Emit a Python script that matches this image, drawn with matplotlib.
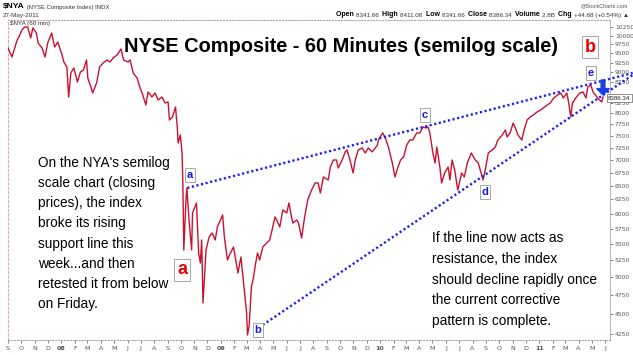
import matplotlib.pyplot as plt
import matplotlib.patches as mpatches
import pandas as pd

# hourly closes of $NYA (thinned)
dates = ['2007-09-01', '2007-09-06', '2007-09-10', '2007-09-15', '2007-09-22', '2007-09-26',
         '2007-10-03', '2007-10-09', '2007-10-16', '2007-10-23', '2007-10-28', '2007-11-05',
         '2007-11-09', '2007-11-18', '2007-11-25', '2007-12-01', '2007-12-10', '2007-12-17',
         '2007-12-24', '2008-01-03', '2008-01-07', '2008-01-14', '2008-01-18', '2008-01-23',
         '2008-01-30', '2008-02-07', '2008-02-14', '2008-02-21', '2008-02-28', '2008-03-02',
         '2008-03-09', '2008-03-13', '2008-03-22', '2008-03-29', '2008-04-06', '2008-04-15',
         '2008-04-22', '2008-04-29', '2008-05-08', '2008-05-17', '2008-05-23', '2008-06-02',
         '2008-06-07', '2008-06-14', '2008-06-23', '2008-06-29', '2008-07-06', '2008-07-13',
         '2008-07-18', '2008-07-27', '2008-08-03', '2008-08-10', '2008-08-19', '2008-08-26',
         '2008-09-02', '2008-09-05', '2008-09-12', '2008-09-19', '2008-09-23', '2008-09-25',
         '2008-09-30', '2008-10-04', '2008-10-06', '2008-10-08', '2008-10-13', '2008-10-15',
         '2008-10-20', '2008-10-26', '2008-10-28', '2008-11-06', '2008-11-11', '2008-11-15',
         '2008-11-18', '2008-11-21', '2008-11-28', '2008-12-05', '2008-12-12', '2008-12-19',
         '2008-12-24', '2009-01-05', '2009-01-09', '2009-01-16', '2009-01-23', '2009-01-30',
         '2009-02-09', '2009-02-16', '2009-02-23', '2009-03-01', '2009-03-03', '2009-03-07',
         '2009-03-12', '2009-03-17', '2009-03-21', '2009-03-26', '2009-03-31', '2009-04-07',
         '2009-04-16', '2009-04-23', '2009-04-30', '2009-05-05', '2009-05-09', '2009-05-16',
         '2009-05-23', '2009-06-01', '2009-06-06', '2009-06-12', '2009-06-15', '2009-06-24',
         '2009-06-28', '2009-07-05', '2009-07-12', '2009-07-19', '2009-07-28', '2009-08-05',
         '2009-08-12', '2009-08-17', '2009-08-24', '2009-09-04', '2009-09-09', '2009-09-16',
         '2009-09-23', '2009-09-27', '2009-10-06', '2009-10-13', '2009-10-17', '2009-10-24',
         '2009-10-31', '2009-11-05', '2009-11-12', '2009-11-21', '2009-11-28', '2009-12-05',
         '2009-12-14', '2009-12-26', '2009-12-28', '2010-01-07', '2010-01-13', '2010-01-20',
         '2010-01-29', '2010-02-04', '2010-02-11', '2010-02-17', '2010-02-24', '2010-03-03',
         '2010-03-10', '2010-03-17', '2010-03-26', '2010-04-02', '2010-04-09', '2010-04-16',
         '2010-04-21', '2010-04-25', '2010-05-02', '2010-05-07', '2010-05-11', '2010-05-18',
         '2010-05-22', '2010-05-29', '2010-06-06', '2010-06-10', '2010-06-15', '2010-06-21',
         '2010-06-28', '2010-07-07', '2010-07-13', '2010-07-20', '2010-07-29', '2010-08-07',
         '2010-08-14', '2010-08-23', '2010-08-25', '2010-08-30', '2010-09-06', '2010-09-15',
         '2010-09-22', '2010-09-28', '2010-10-08', '2010-10-15', '2010-10-19', '2010-10-26',
         '2010-11-02', '2010-11-09', '2010-11-13', '2010-11-22', '2010-11-27', '2010-12-04',
         '2010-12-11', '2010-12-18', '2010-12-27', '2011-01-04', '2011-01-10', '2011-01-19',
         '2011-01-26', '2011-02-03', '2011-02-12', '2011-02-19', '2011-02-25', '2011-03-05',
         '2011-03-09', '2011-03-14', '2011-03-18', '2011-03-27', '2011-04-04', '2011-04-11',
         '2011-04-18', '2011-04-22', '2011-04-29', '2011-05-04', '2011-05-13', '2011-05-19',
         '2011-05-24', '2011-05-27']
close = [9651, 9513, 9405, 9595, 9875, 9960,
         10162, 10250, 10250, 9931, 10221, 10075,
         9790, 9651, 9405, 9790, 10075, 9678,
         9818, 9459, 9271, 9139, 8386, 8984,
         9113, 8754, 9010, 9061, 9325, 8855,
         8629, 8483, 8729, 9139, 9245, 9325,
         9271, 9379, 9459, 9624, 9325, 9271,
         9325, 8984, 8855, 8629, 8434, 8195,
         8508, 8386, 8483, 8314, 8386, 8243,
         8266, 7851, 7918, 8149, 7695, 7349,
         7520, 7142, 6478, 5408, 6241, 6460,
         5893, 5408, 6013, 6187, 5361, 5209,
         5565, 4645, 5408, 5613, 5678, 5565,
         5776, 5979, 5613, 5254, 5361, 5454,
         5062, 5300, 4864, 4513, 4237, 4361,
         4864, 5004, 5180, 5361, 5254, 5454,
         5517, 5565, 5776, 5945, 5893, 5776,
         6065, 6013, 6187, 5945, 5842, 5893,
         5842, 5597, 5945, 6241, 6423, 6553,
         6553, 6368, 6667, 6610, 6861, 7000,
         7000, 6841, 7000, 7163, 7204, 7000,
         6744, 7000, 7204, 7245, 7142, 7245,
         7163, 7307, 7413, 7564, 7456, 7265,
         6940, 6667, 6861, 7000, 7061, 7307,
         7413, 7413, 7564, 7564, 7695, 7672,
         7695, 7564, 7142, 6940, 7265, 6861,
         6553, 6744, 6861, 6610, 7000, 6802,
         6423, 6744, 6667, 6940, 7142, 7000,
         6940, 6667, 6610, 6802, 7142, 7204,
         7265, 7413, 7520, 7629, 7477, 7564,
         7783, 7629, 7520, 7413, 7629, 7851,
         7918, 7963, 8033, 8079, 8125, 8195,
         8243, 8362, 8434, 8483, 8362, 8483,
         8266, 7918, 8243, 8386, 8483, 8508,
         8362, 8629, 8680, 8508, 8386, 8314,
         8266, 8386]

price_ticks = [4250, 4500, 4750, 5000, 5250, 5500, 5750, 6000, 6250, 6500, 6750,
               7000, 7250, 7500, 7750, 8000, 8250, 8750, 9000, 9250, 9500, 9750,
               10000, 10250]
month_labels = ['S', 'O', 'N', 'D', '08', 'F', 'M', 'A', 'M', 'J', 'J', 'A',
                'S', 'O', 'N', 'D', '09', 'F', 'M', 'A', 'M', 'J', 'J', 'A',
                'S', 'O', 'N', 'D', '10', 'F', 'M', 'A', 'M', 'J', 'J', 'A',
                'S', 'O', 'N', 'D', '11', 'F', 'M', 'A', 'M', 'J']

# trendlines (start / end)
upper_dates = ['2008-10-16', '2011-08-03']
upper_prices = [6460, 8984]
lower_dates = ['2009-04-07', '2011-08-03']
lower_prices = [4361, 8932]

last_close = 8386.34

FONT = ['Liberation Sans', 'DejaVu Sans']
W, H = 633, 355


def fx(x):
    return x / W


def fy(y):
    return 1 - y / H


fig = plt.figure(figsize=(6.33, 3.55), dpi=100)
ax = fig.add_axes([fx(8), fy(340), fx(610) - fx(8), fy(20) - fy(340)])

d = pd.to_datetime(dates)
ax.plot(d, close, color='#cc1030', lw=1.0, zorder=3)

ax.set_yscale('log')
ax.set_ylim(4177, 10458)
ax.set_xlim(pd.Timestamp('2007-09-01'), pd.Timestamp('2011-06-12'))

# trendlines
for td, tp in [(upper_dates, upper_prices), (lower_dates, lower_prices)]:
    ax.plot(pd.to_datetime(td), tp, color='#1a1aff', lw=1.7,
            ls=(0, (0.9, 1.1)), clip_on=False, zorder=4)

# axes cosmetics
ax.yaxis.tick_right()
ax.set_yticks(price_ticks)
ax.set_yticklabels([str(t) for t in price_ticks])
ax.yaxis.set_minor_locator(plt.NullLocator())
ax.tick_params(axis='y', which='major', labelsize=4.3, length=2, width=0.5,
               colors='#555555', pad=1.5)
months = pd.date_range('2007-09-01', '2011-06-01', freq='MS')
ax.set_xticks(months)
ax.set_xticklabels(month_labels)
for lab, txt in zip(ax.get_xticklabels(), month_labels):
    if txt.isdigit():
        lab.set_fontweight('bold')
ax.tick_params(axis='x', labelsize=4.6, length=2, width=0.5, colors='#555555', pad=2)

for s in ['top', 'bottom']:
    ax.spines[s].set_linestyle(':')
    ax.spines[s].set_color('#c0a0aa')
    ax.spines[s].set_linewidth(0.8)
ax.spines['left'].set_linestyle((0, (2, 2)))
ax.spines['left'].set_color('#e8a0b8')
ax.spines['left'].set_linewidth(0.8)
ax.spines['right'].set_color('#aaaaaa')
ax.spines['right'].set_linewidth(0.6)

# header
t = fig.text(fx(3), fy(8), '$NYA', fontsize=6, fontweight='bold', family=FONT, va='baseline')
ax.annotate(' (NYSE Composite Index) INDX', xy=(1, 0), xycoords=t, fontsize=4.3,
            family=FONT, va='bottom', color='#333333')
fig.text(fx(3), fy(17), '27-May-2011', fontsize=4.5, family=FONT, va='baseline', color='#333333')
fig.text(fx(10), fy(25), '$NYA (60 min)', fontsize=4.5, family=FONT, va='baseline', color='#333333')
fig.text(fx(628), fy(7), '@StockCharts.com', fontsize=4, family=FONT, va='baseline',
         ha='right', color='#555555')

ohlc = [('Open', '8341.66'), ('High', '8411.08'), ('Low', '8341.66'),
        ('Close', '8386.34'), ('Volume', '2.8B'), ('Chg', '+44.68 (+0.54%) \u25b2')]
prev = fig.text(fx(629), fy(17), ohlc[-1][1], fontsize=4.5, family=FONT, ha='right',
                va='baseline', color='#333333')
for i, (lab, val) in enumerate(reversed(ohlc)):
    if i > 0:
        prev = ax.annotate(val + '  ', xy=(0, 0), xycoords=prev, fontsize=4.5, family=FONT,
                           ha='right', va='bottom', color='#333333')
    prev = ax.annotate(lab + ' ', xy=(0, 0), xycoords=prev, fontsize=5, family=FONT,
                       fontweight='bold', ha='right', va='bottom')

# title
fig.text(fx(341), fy(46), 'NYSE Composite - 60 Minutes (semilog scale)', fontsize=14.4,
         fontweight='bold', family=FONT, ha='center', va='center')

# commentary
fig.text(fx(38), fy(156), "On the NYA's semilog\nscale chart (closing\nprices), the index\n"
         "broke its rising\nsupport line this\nweek...and then\nretested it from below\non Friday.",
         fontsize=9.8, family=FONT, ha='left', va='top', linespacing=1.56)
fig.text(fx(432), fy(231), "If the line now acts as\nresistance, the index\n"
         "should decline rapidly once\nthe current corrective\npattern is complete.",
         fontsize=9.8, family=FONT, ha='left', va='top', linespacing=1.62)

# wave labels
box = dict(boxstyle='square,pad=0.18', fc='white', ec='#999999', lw=0.6)
big = dict(boxstyle='square,pad=0.15', fc='white', ec='#999999', lw=0.6)
for lab, x, y in [('a', 190, 175), ('b', 258, 330), ('c', 425, 115),
                  ('d', 485, 192), ('e', 591, 73)]:
    fig.text(fx(x), fy(y), lab, fontsize=8, fontweight='bold', color='#1515ee',
             family=FONT, ha='center', va='center', bbox=box, zorder=6)
for lab, x, y in [('a', 182, 270), ('b', 590, 47)]:
    fig.text(fx(x), fy(y), lab, fontsize=13, fontweight='bold', color='#ee0000',
             family=FONT, ha='center', va='center', bbox=big, zorder=6)

# arrow and last price box
fig.patches.append(mpatches.FancyArrow(
    fx(603), fy(80), 0, -(fy(80) - fy(95)), width=0.006, head_width=0.02,
    head_length=0.018, length_includes_head=True, color='#1a40e0',
    transform=fig.transFigure, figure=fig))
fig.text(fx(608), fy(98), '%.2f' % last_close, fontsize=4.4, family=FONT, ha='left',
         va='center', color='#222222',
         bbox=dict(boxstyle='square,pad=0.2', fc='white', ec='#666666', lw=0.5), zorder=7)

fig.savefig('out.png', dpi=100)
